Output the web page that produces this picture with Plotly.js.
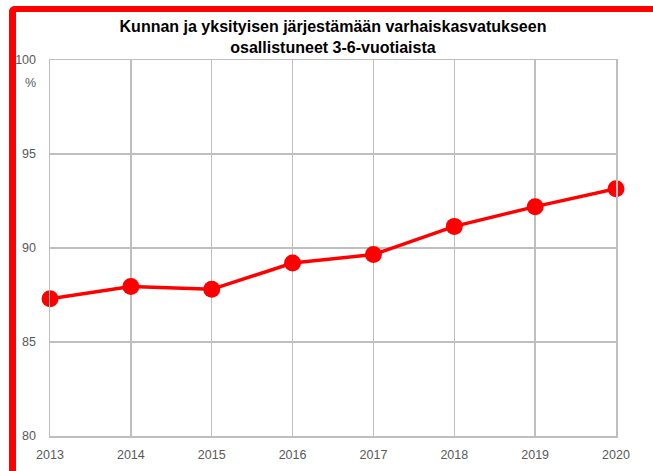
<!DOCTYPE html>
<html>
<head>
<meta charset="utf-8">
<script src="https://cdn.plot.ly/plotly-3.0.1.min.js"></script>
<style>
html,body{margin:0;padding:0;background:#fff;}
#wrap{position:relative;width:653px;height:471px;overflow:hidden;}
#frame{position:absolute;left:9px;top:6px;right:-20px;bottom:-20px;border-top:6px solid #ff0000;border-left:7px solid #ff0000;border-top-left-radius:6px;pointer-events:none;}
#chart{position:absolute;left:0;top:0;width:653px;height:471px;}
</style>
</head>
<body>
<div id="wrap">
<div id="frame"></div>
<div id="chart"></div>
</div>
<script>
const years = ['2013','2014','2015','2016','2017','2018','2019','2020'];
const shares = [87.3, 87.95, 87.8, 89.2, 89.65, 91.15, 92.2, 93.15];
const yTicks = [80, 85, 90, 95, 100];
const titleText = 'Kunnan ja yksityisen järjestämään varhaiskasvatukseen<br>osallistuneet 3-6-vuotiaista';
const unitLabel = '%';

const trace = {
  x: years,
  y: shares,
  type: 'scatter',
  mode: 'lines+markers',
  line: {color: '#ff0000', width: 3.5},
  marker: {color: '#ff0000', size: 17},
  cliponaxis: false,
  hoverinfo: 'skip'
};

const layout = {
  width: 653,
  height: 471,
  margin: {l: 50, r: 37, t: 60, b: 35},
  paper_bgcolor: 'rgba(0,0,0,0)',
  plot_bgcolor: '#ffffff',
  showlegend: false,
  title: {
    text: titleText,
    font: {family: 'Liberation Sans', size: 16, color: '#000000', weight: 'bold'},
    x: 0.5, xref: 'paper', xanchor: 'center',
    y: 1 - 32/471, yref: 'container', yanchor: 'top'
  },
  xaxis: {
    type: 'category',
    range: [0, years.length - 1],
    showgrid: true, gridcolor: '#bfbfbf', gridwidth: 1.5,
    showline: true, linecolor: '#bfbfbf', linewidth: 1.5, mirror: true,
    zeroline: false, ticks: '',
    ticklabelstandoff: 6,
    tickfont: {family: 'Liberation Sans', size: 12.5, color: '#595959'}
  },
  yaxis: {
    range: [80, 100],
    tickvals: yTicks,
    showgrid: true, gridcolor: '#bfbfbf', gridwidth: 1.5,
    showline: true, linecolor: '#bfbfbf', linewidth: 1.5, mirror: true,
    zeroline: false, ticks: '',
    ticklabelstandoff: 10,
    tickfont: {family: 'Liberation Sans', size: 12.5, color: '#595959'}
  },
  annotations: [{
    text: unitLabel, xref: 'paper', yref: 'paper',
    x: -0.035, y: 0.94, xanchor: 'center', yanchor: 'middle',
    showarrow: false,
    font: {family: 'Liberation Sans', size: 12.5, color: '#595959'}
  }]
};

Plotly.newPlot('chart', [trace], layout, {displayModeBar: false, staticPlot: true});
</script>
</body>
</html>
